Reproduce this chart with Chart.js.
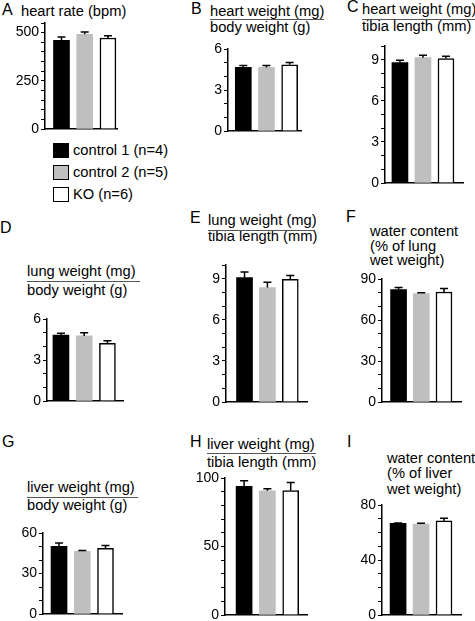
<!DOCTYPE html>
<html><head><meta charset="utf-8">
<script src="https://cdn.jsdelivr.net/npm/chart.js@4"></script>
<style>
body{margin:0;background:#fff;}
#fig{position:relative;width:475px;height:621px;overflow:hidden;background:#fff;font-family:"Liberation Sans",Arial,sans-serif;color:#000;}
.t{position:absolute;font-size:14.7px;line-height:16px;white-space:nowrap;}
.L{position:absolute;font-size:16px;line-height:16px;white-space:nowrap;}
.rule{position:absolute;height:0;border-top:1.5px solid #555;}
.box{position:absolute;width:14px;height:13px;border:1px solid #000;}
canvas{position:absolute;}
</style></head><body><div id="fig"></div>
<script>
// ---------- data ----------
const categories = ['control 1 (n=4)', 'control 2 (n=5)', 'KO (n=6)'];
const barColors = ['#000000', '#bfbfbf', '#ffffff'];

const heartRate = [460, 491, 472];
const heartRateErr = [18, 12, 12];
const heartRateTicks = [0, 250, 500];

const heartPerBody = [4.65, 4.65, 4.85];
const heartPerBodyErr = [0.15, 0.15, 0.17];
const heartPerBodyTicks = [0, 3, 6];

const heartPerTibia = [8.79, 9.15, 9.08];
const heartPerTibiaErr = [0.17, 0.17, 0.17];
const heartPerTibiaTicks = [0, 3, 6, 9];

const lungPerBody = [4.83, 4.76, 4.22];
const lungPerBodyErr = [0.12, 0.24, 0.19];
const lungPerBodyTicks = [0, 3, 6];

const lungPerTibia = [9.08, 8.35, 8.96];
const lungPerTibiaErr = [0.41, 0.39, 0.27];
const lungPerTibiaTicks = [0, 3, 6, 9];

const lungWater = [82.2, 79.3, 80.5];
const lungWaterErr = [1.5, 0.7, 2.5];
const lungWaterTicks = [0, 30, 60, 90];

const liverPerBody = [50.1, 46.4, 48.6];
const liverPerBodyErr = [2.5, 0.7, 2.2];
const liverPerBodyTicks = [0, 30, 60];

const liverPerTibia = [93.9, 90.7, 90.9];
const liverPerTibiaErr = [4.1, 1.5, 5.9];
const liverPerTibiaTicks = [0, 50, 100];

const liverWater = [66.7, 66.2, 68.4];
const liverWaterErr = [0.3, 0.6, 1.9];
const liverWaterTicks = [0, 40, 80];

// ---------- panels (text + layout) ----------
const panels = [
 {letter:'A', lx:2, lb:15, title:[{x:21,b:16,s:'heart rate (bpm)'}], rule:null,
  values:heartRate, errors:heartRateErr, labels:heartRateTicks, max:550, step:50,
  L:{axisX:45, top:23, zero:129, right:117, xMin:-0.71, xMax:2.39}},
 {letter:'B', lx:191, lb:14, title:[{x:210,b:15.5,s:'heart weight (mg)'},{x:210,b:31.5,s:'body weight (g)'}], rule:{x:210,y:19,w:114},
  values:heartPerBody, errors:heartPerBodyErr, labels:heartPerBodyTicks, max:6, step:1,
  L:{axisX:228, top:49, zero:131, right:301, xMin:-0.66, xMax:2.49}},
 {letter:'C', lx:347, lb:12, title:[{x:362,b:14,s:'heart weight (mg)'},{x:362,b:31,s:'tibia length (mm)'}], rule:{x:362,y:18.5,w:113},
  values:heartPerTibia, errors:heartPerTibiaErr, labels:heartPerTibiaTicks, max:10, step:1,
  L:{axisX:385, top:46, zero:183, right:463, xMin:-0.65, xMax:2.74}},
 {letter:'D', lx:0, lb:233, title:[{x:27,b:276,s:'lung weight (mg)'},{x:27,b:295,s:'body weight (g)'}], rule:{x:27,y:281,w:113},
  values:lungPerBody, errors:lungPerBodyErr, labels:lungPerBodyTicks, max:6, step:1,
  L:{axisX:47, top:319, zero:401, right:123, xMin:-0.60, xMax:2.67}},
 {letter:'E', lx:190, lb:223, title:[{x:208,b:225,s:'lung weight (mg)'},{x:208,b:241,s:'tibia length (mm)'}], rule:{x:208,y:229.5,w:107},
  values:lungPerTibia, errors:lungPerTibiaErr, labels:lungPerTibiaTicks, max:10, step:1,
  L:{axisX:226, top:265, zero:402, right:307, xMin:-0.81, xMax:2.73}},
 {letter:'F', lx:346, lb:222, title:[{x:370,b:236,s:'water content'},{x:370,b:250.5,s:'(% of lung'},{x:370,b:265,s:'wet weight)'}], rule:null,
  values:lungWater, errors:lungWaterErr, labels:lungWaterTicks, max:90, step:10,
  L:{axisX:382, top:279, zero:402, right:461, xMin:-0.73, xMax:2.75}},
 {letter:'G', lx:2, lb:447, title:[{x:27,b:491.5,s:'liver weight (mg)'},{x:27,b:510,s:'body weight (g)'}], rule:{x:27,y:497,w:111},
  values:liverPerBody, errors:liverPerBodyErr, labels:liverPerBodyTicks, max:60, step:10,
  L:{axisX:43, top:533, zero:614, right:122, xMin:-0.69, xMax:2.71}},
 {letter:'H', lx:190, lb:447, title:[{x:207,b:449,s:'liver weight (mg)'},{x:207,b:466.5,s:'tibia length (mm)'}], rule:{x:207,y:452.5,w:109},
  values:liverPerTibia, errors:liverPerTibiaErr, labels:liverPerTibiaTicks, max:100, step:10,
  L:{axisX:225, top:478, zero:615, right:307, xMin:-0.82, xMax:2.70}},
 {letter:'I', lx:347, lb:447, title:[{x:387,b:462.5,s:'water content'},{x:387,b:478,s:'(% of liver'},{x:387,b:493.5,s:'wet weight)'}], rule:null,
  values:liverWater, errors:liverWaterErr, labels:liverWaterTicks, max:80, step:10,
  L:{axisX:382, top:505, zero:615, right:461, xMin:-0.70, xMax:2.74}}
];

const legendRows = [{x:53, boxTop:143, b:155},{x:53, boxTop:165, b:177},{x:53, boxTop:187, b:198.5}];

// ---------- build ----------
const fig = document.getElementById('fig');
const FONT = '"Liberation Sans", Arial, sans-serif';
Chart.defaults.font.family = FONT;
Chart.defaults.color = '#000';

function addText(cls, x, top, s){
  const d = document.createElement('div');
  d.className = cls; d.style.left = x + 'px'; d.style.top = top + 'px'; d.textContent = s;
  fig.appendChild(d); return d;
}

const errorBars = {
  id:'errorBars',
  afterDatasetsDraw(chart, args, opts){
    const {ctx} = chart; const y = chart.scales.y;
    const meta = chart.getDatasetMeta(0); const ds = chart.data.datasets[0];
    ctx.save(); ctx.strokeStyle = '#000'; ctx.lineWidth = 1.5;
    meta.data.forEach((bar, i) => {
      const v = ds.data[i].y, e = ds.errors[i];
      const yTop = y.getPixelForValue(v + e);
      const half = opts.capWidth / 2;
      ctx.beginPath();
      ctx.moveTo(bar.x, bar.y); ctx.lineTo(bar.x, yTop);
      ctx.moveTo(bar.x - half, yTop); ctx.lineTo(bar.x + half, yTop);
      ctx.stroke();
    });
    ctx.restore();
  }
};

function makeChart(p){
  const L = p.L;
  const padTop = 12, padBottom = 12, padRight = 4, yW = 32;
  const canvas = document.createElement('canvas');
  const w = (L.right - L.axisX) + yW + padRight;
  const h = (L.zero - L.top) + padTop + padBottom;
  canvas.width = w; canvas.height = h;
  canvas.style.width = w + 'px'; canvas.style.height = h + 'px';
  canvas.style.left = (L.axisX - yW) + 'px'; canvas.style.top = (L.top - padTop) + 'px';
  fig.appendChild(canvas);
  new Chart(canvas, {
    type:'bar',
    data:{datasets:[{
      label: p.letter,
      data: p.values.map((v, i) => ({x:i, y:v})),
      errors: p.errors,
      backgroundColor: barColors,
      borderColor: '#000',
      borderWidth: [0, 0, 1.5],
      borderSkipped: 'start',
      barThickness: 16
    }]},
    options:{
      responsive:false, animation:false, devicePixelRatio:1,
      layout:{padding:{top:padTop, bottom:padBottom, left:0, right:padRight}},
      plugins:{legend:{display:false}, tooltip:{enabled:false}, errorBars:{capWidth:8}},
      scales:{
        x:{type:'linear', min:L.xMin, max:L.xMax, offset:false,
           grid:{display:false, drawTicks:false}, ticks:{display:false},
           border:{display:true, color:'#000', width:1.5},
           afterFit(s){ s.height = 0; }},
        y:{min:0, max:p.max,
           ticks:{stepSize:p.step, autoSkip:false, color:'#000', padding:2,
                  font:{family:FONT, size:14},
                  callback:(v) => p.labels.includes(v) ? String(v) : ''},
           grid:{drawOnChartArea:false, drawTicks:true, tickLength:4, color:'#000', lineWidth:1},
           border:{display:true, color:'#000', width:1.5},
           afterFit(s){ s.width = yW; }}
      }
    },
    plugins:[errorBars]
  });
}

panels.forEach(p => {
  addText('L', p.lx, p.lb - 13.5, p.letter);
  p.title.forEach(t => addText('t', t.x, t.b - 13, t.s));
  if (p.rule){
    const r = document.createElement('div'); r.className = 'rule';
    r.style.left = p.rule.x + 'px'; r.style.top = p.rule.y + 'px'; r.style.width = p.rule.w + 'px';
    fig.appendChild(r);
  }
  makeChart(p);
});

legendRows.forEach((r, i) => {
  const b = document.createElement('div'); b.className = 'box';
  b.style.left = r.x + 'px'; b.style.top = r.boxTop + 'px'; b.style.background = barColors[i];
  fig.appendChild(b);
  addText('t', r.x + 20, r.b - 13, categories[i]);
});
</script></body></html>
